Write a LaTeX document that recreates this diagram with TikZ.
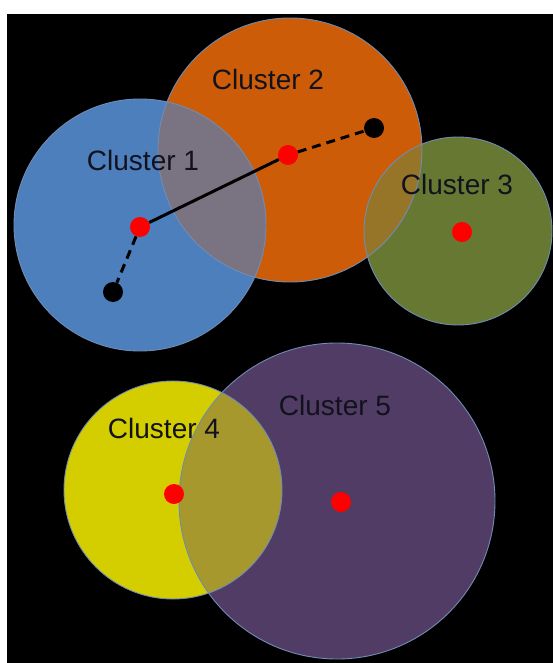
\documentclass[tikz,border=0pt]{standalone}
\usepackage{fontspec}
\setmainfont{Liberation Sans}
\usetikzlibrary{positioning}

\definecolor{cblue}{RGB}{76,127,188}
\definecolor{corange}{RGB}{205,92,8}
\definecolor{cgreen}{RGB}{102,120,50}
\definecolor{cyellow}{RGB}{212,206,0}
\definecolor{cpurple}{RGB}{80,60,100}
\definecolor{cgrey}{RGB}{122,116,130}
\definecolor{cbrown}{RGB}{150,116,40}
\definecolor{colive}{RGB}{166,152,44}
\definecolor{crim}{RGB}{112,140,180}
\definecolor{ctext}{RGB}{18,18,30}

\begin{document}
\begin{tikzpicture}[x=1pt,y=-1pt,every node/.style={font=\fontsize{28}{30}\selectfont,text=ctext},
  centroid/.style={circle,fill=red,minimum size=20pt,inner sep=0pt},
  pointdot/.style={circle,fill=black,minimum size=20pt,inner sep=0pt},
  link/.style={line width=3pt,black},
  rim/.style={draw=crim,line width=0.9pt}]
\useasboundingbox (0,0) rectangle (553,663);
\fill[white] (0,0) rectangle (553,663);
\fill[black] (7,14) rectangle (553,663);
% cluster discs
\foreach \x/\y/\r/\c in {290/150/132/corange,140/225/126/cblue,458/231/94/cgreen,173/490/109/cyellow,337/501/158/cpurple}
  {\fill[\c] (\x,\y) circle (\r pt);}
% overlaps
\begin{scope}
  \clip (290,150) circle (132pt);
  \fill[cgrey] (140,225) circle (126pt);
  \fill[cbrown] (458,231) circle (94pt);
\end{scope}
\begin{scope}
  \clip (173,490) circle (109pt);
  \fill[colive] (337,501) circle (158pt);
\end{scope}
\foreach \x/\y/\r in {290/150/132,140/225/126,458/231/94,173/490/109,337/501/158}
  {\draw[rim] (\x,\y) circle (\r pt);}
% centroids and points
\node[centroid] (c1) at (140,227) {};
\node[centroid] (c2) at (288,155) {};
\node[centroid] (c3) at (462,232) {};
\node[centroid] (c4) at (174,494) {};
\node[centroid] (c5) at (341,502) {};
\node[pointdot] (p1) at (113,292) {};
\node[pointdot] (p2) at (374,128) {};
\draw[link] (c1) -- (c2);
\draw[link,dash pattern=on 9pt off 6pt] (c1) -- (p1);
\draw[link,dash pattern=on 9pt off 6pt] (c2) -- (p2);
% labels
\node (l1) at (143,160) {Cluster 1};
\node (l2) at (268,79) {Cluster 2};
\node (l3) at (457,184) {Cluster 3};
\node (l4) at (164,428) {Cluster 4};
\node (l5) at (335,405) {Cluster 5};
\end{tikzpicture}
\end{document}
